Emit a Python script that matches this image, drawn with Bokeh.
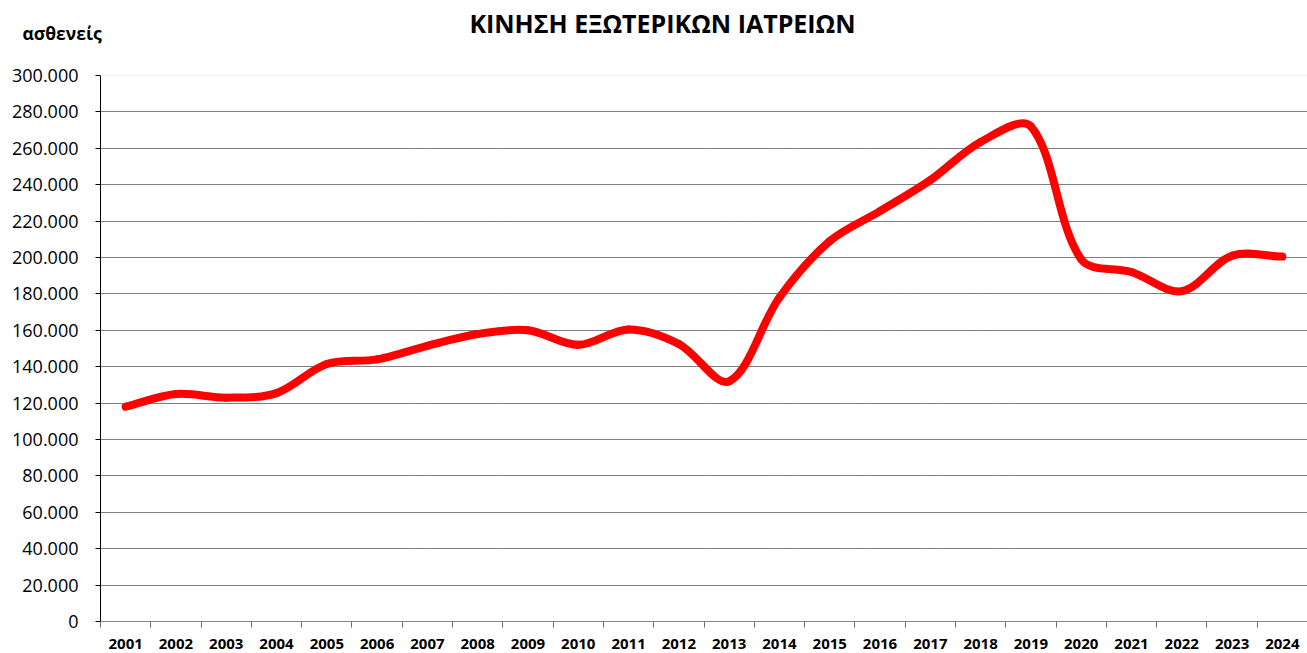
import numpy as np
from bokeh.plotting import figure
from bokeh.models import FixedTicker, Label, Span
from bokeh.embed import file_html
from bokeh.resources import INLINE

# ---------------- data ----------------
years = list(range(2001, 2025))
patients = [118000, 125000, 123000, 125500, 141500, 144000, 151500, 158000,
            160000, 152000, 160500, 152500, 132000, 178000, 209000, 225500,
            242500, 263500, 272000, 199000, 192000, 181500, 201000, 200500]
y_ticks = [0, 20000, 40000, 60000, 80000, 100000, 120000, 140000, 160000,
           180000, 200000, 220000, 240000, 260000, 280000, 300000]
y_tick_labels = ["0", "20.000", "40.000", "60.000", "80.000", "100.000",
                 "120.000", "140.000", "160.000", "180.000", "200.000",
                 "220.000", "240.000", "260.000", "280.000", "300.000"]
title_text = "ΚΙΝΗΣΗ ΕΞΩΤΕΡΙΚΩΝ ΙΑΤΡΕΙΩΝ"
y_label_text = "ασθενείς"

FONT = "Open Sans"
W, H = 1307, 653
BL, BR, BT, BB = 100, 0, 75, 32

x0r, x1r = years[0] - 0.5, years[-1] + 0.5
p = figure(width=W, height=H, x_range=(x0r, x1r), y_range=(y_ticks[0], y_ticks[-1]),
           output_backend="svg", toolbar_location=None,
           min_border_left=BL, min_border_right=BR, min_border_top=BT, min_border_bottom=BB)
p.outline_line_color = None
p.background_fill_color = "white"
p.border_fill_color = "white"

# ---------- smoothed line (Bezier segments through the data points) ----------
fw = W - BL - BR
fh = H - BT - BB
kx = fw / (x1r - x0r)
ky = fh / (y_ticks[-1] - y_ticks[0])
xs = np.array(years, dtype=float) * kx
ys = np.array(patients, dtype=float) * ky
n = len(xs)


def P(i):
    i = min(max(i, 0), n - 1)
    return np.array([xs[i], ys[i]])


bx0, by0, bx1, by1, c0x, c0y, c1x, c1y = ([] for _ in range(8))
for i in range(n - 1):
    p0, p1, p2, p3 = P(i - 1), P(i), P(i + 1), P(i + 2)
    d01 = np.linalg.norm(p1 - p0)
    d12 = np.linalg.norm(p2 - p1)
    d23 = np.linalg.norm(p3 - p2)
    c1 = p1 + (p2 - p0) * (d12 / (d01 + d12)) / 3.0
    c2 = p2 - (p3 - p1) * (d12 / (d12 + d23)) / 3.0
    bx0.append(p1[0] / kx); by0.append(p1[1] / ky)
    bx1.append(p2[0] / kx); by1.append(p2[1] / ky)
    c0x.append(c1[0] / kx); c0y.append(c1[1] / ky)
    c1x.append(c2[0] / kx); c1y.append(c2[1] / ky)

# ---------- grid ----------
p.xgrid.grid_line_color = None
p.ygrid.ticker = FixedTicker(ticks=y_ticks[1:-1])
p.ygrid.grid_line_color = "#000000"
p.ygrid.grid_line_dash = "1 1"
p.ygrid.grid_line_width = 1
p.add_layout(Span(location=y_ticks[-1], dimension="width", line_color="#c8c8c8",
                  line_dash="1 1", line_width=1))

p.bezier(x0=bx0, y0=by0, x1=bx1, y1=by1, cx0=c0x, cy0=c0y, cx1=c1x, cy1=c1y,
         line_color="#FF0000", line_width=8, line_cap="round")

# ---------- axes ----------
ya = p.yaxis[0]
ya.ticker = FixedTicker(ticks=y_ticks)
ya.major_label_overrides = {t: l for t, l in zip(y_ticks, y_tick_labels)}
ya.axis_line_color = "black"
ya.major_tick_line_color = "black"
ya.major_tick_out = 5
ya.major_tick_in = 0
ya.minor_tick_line_color = None
ya.major_label_text_font = FONT
ya.major_label_text_font_size = "18px"
ya.major_label_text_color = "black"
ya.major_label_standoff = 17

xa = p.xaxis[0]
xa.ticker = FixedTicker(ticks=years, minor_ticks=[y - 0.5 for y in years] + [years[-1] + 0.5])
xa.major_label_overrides = {y: str(y) for y in years}
xa.axis_line_color = "#868686"
xa.major_tick_line_color = None
xa.major_tick_out = 0
xa.major_tick_in = 0
xa.minor_tick_line_color = "#6f6f6f"
xa.minor_tick_out = 6
xa.minor_tick_in = 0
xa.major_label_text_font = FONT
xa.major_label_text_font_style = "bold"
xa.major_label_text_font_size = "15px"
xa.major_label_text_color = "black"
xa.major_label_standoff = 11

# ---------- titles (in the top panel, so they are not clipped by the frame) ----------
p.add_layout(Label(x=x0r + (662 - BL) / kx, y=53, x_units="data", y_units="screen",
                   text=title_text, text_align="center", text_baseline="middle",
                   text_font=FONT, text_font_style="bold", text_font_size="25px",
                   text_color="black"), "above")
p.add_layout(Label(x=x0r + (22 - BL) / kx, y=9, x_units="data", y_units="screen",
                   text=y_label_text, text_align="left", text_baseline="middle",
                   text_font=FONT, text_font_style="bold", text_font_size="17.5px",
                   text_color="black"), "above")

open("out.html", "w").write(file_html(p, INLINE))
